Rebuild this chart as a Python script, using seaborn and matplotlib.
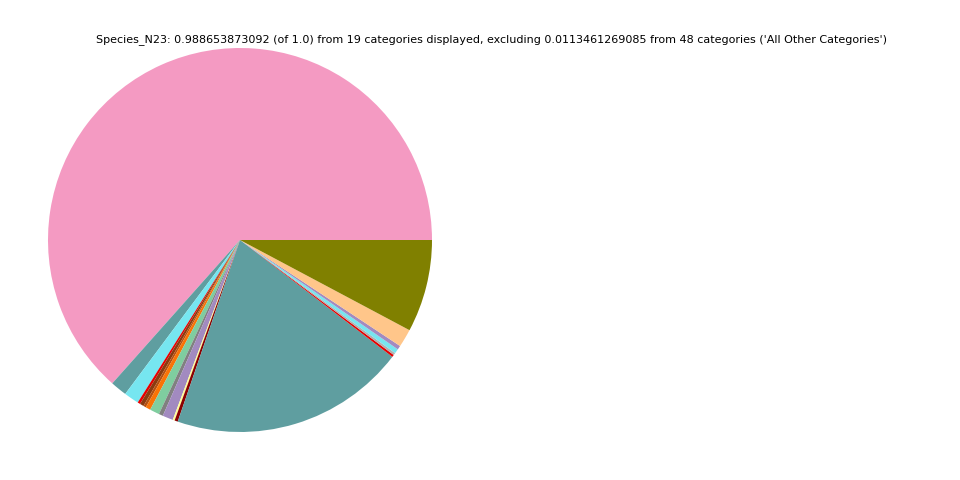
import matplotlib
matplotlib.use("Agg")
import matplotlib.pyplot as plt
import seaborn as sns

# species shares (fraction of 1.0), counterclockwise from 3 o'clock
categories = ["sp01", "sp02", "sp03", "sp04", "sp05", "sp06", "sp07", "sp08", "sp09",
              "sp10", "sp11", "sp12", "sp13", "sp14", "sp15", "sp16", "sp17", "sp18", "sp19"]
shares = [0.6267, 0.0137, 0.0124, 0.0022, 0.0033, 0.0022, 0.0041, 0.0080, 0.0035,
          0.0088, 0.0016, 0.0027, 0.1961, 0.0019, 0.0019, 0.0038, 0.0033, 0.0151, 0.0769]
slice_colors = ["#f49ac2", "#5f9ea0", "#76e6f0", "#e50000", "#8b3a0f", "#b5500f",
                "#f97306", "#7fcd9f", "#808080", "#a28ac0", "#ffff99", "#8b0000",
                "#5f9ea0", "#e50000", "#b0b0b0", "#76e6f0", "#a28ac0", "#ffc68a", "#808000"]

title = ("Species_N23: 0.988653873092 (of 1.0) from 19 categories displayed, "
         "excluding 0.0113461269085 from 48 categories ('All Other Categories')")

sns.set_theme(style="white")
plt.rcParams['font.family'] = ['DejaVu Sans']

fig = plt.figure(figsize=(9.6, 4.8), dpi=100)
ax = fig.add_axes([48 / 960, 48 / 480, 384 / 960, 384 / 480])
ax.pie(shares, colors=slice_colors, startangle=0, counterclock=True,
       wedgeprops=dict(linewidth=0, edgecolor="none"))
ax.set_xlim(-1, 1)
ax.set_ylim(-1, 1)
ax.set_aspect("equal")
ax.axis("off")

fig.text(492 / 960, 1 - 40 / 480, title, ha="center", va="center",
         fontsize=8, color="black")

fig.savefig("out.png", dpi=100)
